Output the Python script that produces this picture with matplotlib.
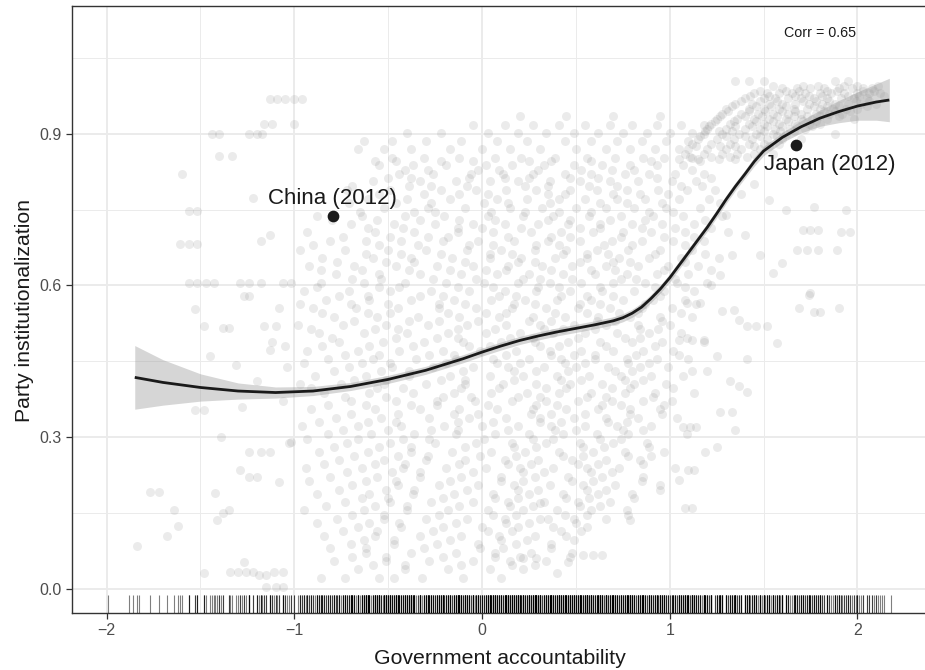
import numpy as np
import matplotlib.pyplot as plt
from matplotlib.ticker import FormatStrFormatter, MultipleLocator
import matplotlib.transforms as mtransforms

plt.rcParams['font.family'] = ['Liberation Sans', 'DejaVu Sans']

# Scatter cloud: (party institutionalization, [government accountability ...])
top_cluster_rows = [
    (1.005, [1.35, 1.42, 1.50, 1.88, 1.95]),
    (0.990, [1.60, 1.68, 1.75, 1.82, 1.90, 1.97, 2.03, 2.08]),
    (0.980, [1.45, 1.52, 1.58, 1.65, 1.72, 1.80, 1.86, 1.93, 2.00, 2.06, 2.12]),
    (0.970, [1.40, 1.50, 1.56, 1.63, 1.70, 1.77, 1.84, 1.91, 1.98, 2.05]),
    (0.960, [1.35, 1.44, 1.53, 1.60, 1.67, 1.74, 1.81, 1.88, 1.95, 2.02, 2.10]),
    (0.950, [1.30, 1.42, 1.50, 1.58, 1.66, 1.73, 1.80, 1.87, 1.94, 2.00]),
    (0.940, [1.28, 1.38, 1.47, 1.55, 1.63, 1.70, 1.78, 1.85, 1.92]),
    (0.930, [1.25, 1.36, 1.45, 1.53, 1.62, 1.70, 1.76, 1.84, 1.98]),
    (0.920, [1.22, 1.32, 1.42, 1.50, 1.58, 1.67, 1.74, 1.80]),
    (0.910, [1.20, 1.30, 1.40, 1.48, 1.56, 1.64, 1.72]),
    (0.900, [1.18, 1.28, 1.37, 1.46, 1.55, 1.62, 1.88]),
    (0.890, [1.15, 1.25, 1.34, 1.44, 1.52, 1.60, 1.70]),
    (0.880, [1.12, 1.22, 1.32, 1.42, 1.50, 1.58]),
    (0.870, [1.10, 1.20, 1.30, 1.38, 1.48]),
    (0.860, [1.08, 1.18, 1.28, 1.36, 1.45, 1.55]),
    (0.850, [1.05, 1.15, 1.26, 1.35]),
]

top_cluster_rows_b = [
    (0.995, [1.55, 1.71, 1.79, 1.93, 2.00, 2.11]),
    (0.985, [1.48, 1.62, 1.69, 1.84, 1.89, 2.03, 2.09]),
    (0.975, [1.43, 1.53, 1.67, 1.74, 1.81, 1.95, 2.01, 2.14]),
    (0.965, [1.38, 1.48, 1.57, 1.71, 1.78, 1.85, 1.99, 2.06]),
    (0.955, [1.33, 1.46, 1.54, 1.62, 1.77, 1.84, 1.90, 2.05]),
    (0.945, [1.31, 1.42, 1.51, 1.60, 1.67, 1.82, 1.88, 1.96]),
    (0.935, [1.27, 1.40, 1.49, 1.57, 1.66, 1.73, 1.80, 1.90]),
    (0.925, [1.24, 1.34, 1.46, 1.55, 1.63, 1.71, 1.78]),
    (0.915, [1.21, 1.35, 1.44, 1.52, 1.60, 1.68, 1.76]),
    (0.905, [1.19, 1.26, 1.33, 1.50, 1.59, 1.66]),
    (0.895, [1.16, 1.30, 1.40, 1.48, 1.57]),
    (0.875, [1.14, 1.27, 1.35, 1.45, 1.53]),
    (0.855, [1.11, 1.22, 1.32, 1.41]),
]

upper_band_rows = [
    (0.935, [0.20, 0.45, 0.70, 0.95]),
    (0.918, [-0.05, 0.12, 0.27, 0.41, 0.55, 0.68, 0.80, 0.93, 1.06, 1.18]),
    (0.902, [-0.40, -0.22, 0.03, 0.19, 0.34, 0.49, 0.62, 0.75, 0.88, 1.00, 1.12]),
    (0.886, [-0.63, -0.48, -0.30, -0.11, 0.08, 0.24, 0.44, 0.58, 0.72, 0.85, 0.98, 1.10]),
    (0.870, [-0.66, -0.52, -0.38, -0.17, 0.00, 0.15, 0.31, 0.50, 0.66, 0.79, 0.92, 1.05]),
]

core_rows = [
    (0.853, [-0.48, -0.31, -0.12, 0.07, 0.21, 0.39, 0.56, 0.71, 0.86, 0.97, 1.12]),
    (0.838, [-0.55, -0.37, -0.19, 0.02, 0.16, 0.33, 0.49, 0.64, 0.79, 0.93, 1.07]),
    (0.821, [-0.44, -0.26, -0.06, 0.11, 0.27, 0.44, 0.58, 0.76, 0.89, 1.03, 1.18]),
    (0.806, [-0.58, -0.33, -0.14, 0.04, 0.19, 0.36, 0.52, 0.68, 0.83, 1.01, 1.14]),
    (0.789, [-0.72, -0.49, -0.22, -0.03, 0.13, 0.29, 0.47, 0.61, 0.77, 0.94, 1.09, 1.24]),
    (0.772, [-0.61, -0.40, -0.17, 0.08, 0.24, 0.41, 0.55, 0.72, 0.87, 1.05, 1.21]),
    (0.754, [-0.52, -0.29, -0.09, 0.15, 0.32, 0.50, 0.66, 0.81, 0.98, 1.16]),
    (0.738, [-0.88, -0.64, -0.41, -0.20, 0.03, 0.22, 0.38, 0.57, 0.74, 0.91, 1.07, 1.28]),
    (0.721, [-0.70, -0.47, -0.25, -0.05, 0.12, 0.30, 0.46, 0.63, 0.80, 0.96, 1.13]),
    (0.705, [-0.93, -0.57, -0.36, -0.13, 0.06, 0.26, 0.42, 0.59, 0.75, 0.90, 1.08, 1.31]),
    (0.688, [-0.81, -0.62, -0.43, -0.21, -0.02, 0.17, 0.35, 0.52, 0.69, 0.85, 1.02, 1.18]),
    (0.671, [-0.97, -0.73, -0.50, -0.30, -0.08, 0.10, 0.28, 0.45, 0.61, 0.78, 0.95, 1.12]),
    (0.655, [-0.85, -0.58, -0.38, -0.16, 0.04, 0.21, 0.39, 0.56, 0.73, 0.89, 1.06, 1.26]),
    (0.638, [-0.92, -0.68, -0.46, -0.24, -0.05, 0.14, 0.32, 0.48, 0.66, 0.83, 0.99, 1.15]),
    (0.622, [-0.78, -0.55, -0.33, -0.11, 0.08, 0.25, 0.43, 0.60, 0.77, 0.93, 1.10]),
    (0.605, [-1.02, -0.86, -0.63, -0.41, -0.19, 0.01, 0.19, 0.36, 0.53, 0.70, 0.87, 1.04, 1.20]),
    (0.588, [-0.95, -0.71, -0.49, -0.27, -0.07, 0.12, 0.29, 0.47, 0.64, 0.81, 0.97, 1.13]),
    (0.571, [-0.83, -0.60, -0.38, -0.15, 0.05, 0.23, 0.40, 0.58, 0.75, 0.91, 1.08]),
    (0.555, [-1.08, -0.90, -0.67, -0.45, -0.23, -0.03, 0.16, 0.34, 0.51, 0.68, 0.85, 1.01]),
    (0.538, [-0.79, -0.56, -0.34, -0.12, 0.09, 0.27, 0.44, 0.62, 0.79, 0.95, 1.12]),
    (0.521, [-0.98, -0.74, -0.51, -0.29, -0.08, 0.13, 0.31, 0.49, 0.66, 0.83, 1.00]),
    (0.505, [-0.87, -0.63, -0.40, -0.18, 0.02, 0.20, 0.38, 0.55, 0.72, 0.89, 1.06]),
    (0.488, [-1.12, -0.76, -0.53, -0.31, -0.10, 0.10, 0.28, 0.46, 0.63, 0.80, 0.96, 1.18]),
    (0.471, [-0.93, -0.66, -0.44, -0.21, -0.01, 0.18, 0.36, 0.53, 0.70, 0.86, 1.02]),
    (0.455, [-0.82, -0.58, -0.35, -0.14, 0.06, 0.25, 0.42, 0.60, 0.77, 0.93, 1.10]),
    (0.438, [-1.04, -0.71, -0.48, -0.26, -0.05, 0.14, 0.33, 0.50, 0.67, 0.84, 0.99]),
    (0.421, [-0.89, -0.62, -0.39, -0.17, 0.04, 0.22, 0.40, 0.57, 0.74, 0.90, 1.07]),
    (0.405, [-0.97, -0.75, -0.52, -0.30, -0.09, 0.11, 0.29, 0.47, 0.64, 0.81, 0.98]),
    (0.388, [-0.84, -0.60, -0.37, -0.15, 0.05, 0.24, 0.41, 0.58, 0.76, 0.92, 1.13]),
    (0.371, [-1.06, -0.70, -0.46, -0.24, -0.04, 0.16, 0.34, 0.51, 0.69, 0.86, 1.01]),
    (0.355, [-0.91, -0.57, -0.33, -0.12, 0.08, 0.27, 0.45, 0.62, 0.79, 0.95]),
    (0.338, [-0.78, -0.54, -0.28, -0.07, 0.13, 0.31, 0.49, 0.66, 0.83, 1.04]),
    (0.321, [-0.96, -0.66, -0.43, -0.20, 0.00, 0.19, 0.37, 0.55, 0.72, 0.90]),
    (0.305, [-0.82, -0.59, -0.36, -0.14, 0.07, 0.25, 0.43, 0.61, 0.78, 1.09]),
    (0.288, [-1.03, -0.72, -0.49, -0.25, -0.03, 0.16, 0.34, 0.52, 0.70, 0.88]),
    (0.271, [-0.87, -0.61, -0.38, -0.16, 0.05, 0.23, 0.41, 0.59, 0.76, 0.97]),
    (0.255, [-0.76, -0.52, -0.30, -0.09, 0.12, 0.30, 0.48, 0.66, 0.84]),
    (0.238, [-0.94, -0.64, -0.42, -0.19, 0.02, 0.20, 0.38, 0.56, 0.73, 1.03]),
    (0.221, [-0.81, -0.56, -0.33, -0.11, 0.10, 0.28, 0.46, 0.64, 0.86]),
    (0.205, [-0.69, -0.45, -0.23, -0.02, 0.17, 0.36, 0.54, 0.71, 0.95]),
    (0.188, [-0.88, -0.60, -0.37, -0.15, 0.06, 0.25, 0.43, 0.62, 0.80]),
    (0.171, [-0.73, -0.49, -0.27, -0.05, 0.14, 0.33, 0.51, 0.68]),
    (0.155, [-0.95, -0.63, -0.40, -0.18, 0.03, 0.22, 0.40, 0.58, 0.77]),
    (0.138, [-0.77, -0.52, -0.30, -0.08, 0.12, 0.31, 0.49, 0.66]),
    (0.121, [-0.66, -0.43, -0.21, 0.00, 0.19, 0.38, 0.56]),
    (0.105, [-0.84, -0.57, -0.33, -0.11, 0.09, 0.28, 0.45]),
    (0.088, [-0.70, -0.47, -0.24, -0.02, 0.18, 0.37]),
    (0.071, [-0.62, -0.38, -0.14, 0.07, 0.26, 0.48]),
    (0.055, [-0.79, -0.51, -0.28, -0.05, 0.15, 0.34]),
    (0.038, [-0.66, -0.41, -0.18, 0.04, 0.22]),
    (0.021, [-0.86, -0.73, -0.55, -0.47, -0.32, -0.10, 0.10]),
]

core_rows_b = [
    (0.846, [-0.57, -0.46, -0.22, -0.05, 0.25, 0.37, 0.58, 0.90, 1.16]),
    (0.829, [-0.41, -0.29, -0.02, 0.09, 0.30, 0.53, 0.69, 0.81, 1.12]),
    (0.813, [-0.50, -0.38, -0.07, 0.12, 0.25, 0.47, 0.62, 0.93, 1.22]),
    (0.797, [-0.69, -0.39, -0.27, -0.08, 0.23, 0.35, 0.57, 0.72, 1.06, 1.17]),
    (0.781, [-0.55, -0.31, -0.12, 0.03, 0.35, 0.44, 0.70, 0.84, 0.99]),
    (0.763, [-0.71, -0.46, -0.27, 0.01, 0.14, 0.36, 0.63, 0.77, 0.96, 1.27]),
    (0.746, [-0.65, -0.36, -0.25, 0.05, 0.23, 0.41, 0.58, 0.89, 1.02]),
    (0.729, [-0.80, -0.56, -0.33, -0.12, 0.07, 0.35, 0.47, 0.68, 0.87, 1.19]),
    (0.713, [-0.61, -0.42, -0.13, 0.00, 0.21, 0.52, 0.63, 0.85, 1.03, 1.22]),
    (0.696, [-0.74, -0.49, -0.29, -0.18, 0.14, 0.37, 0.47, 0.74, 0.97, 1.13]),
    (0.680, [-0.90, -0.55, -0.34, -0.07, 0.06, 0.29, 0.41, 0.65, 0.80, 1.08]),
    (0.663, [-0.62, -0.43, -0.22, 0.04, 0.16, 0.43, 0.56, 0.67, 0.92, 1.19]),
    (0.646, [-0.77, -0.51, -0.36, -0.09, 0.19, 0.28, 0.52, 0.70, 0.79, 1.08]),
    (0.630, [-0.86, -0.64, -0.39, -0.17, 0.02, 0.13, 0.37, 0.58, 0.71, 0.97, 1.22]),
    (0.613, [-0.69, -0.54, -0.26, -0.03, 0.22, 0.31, 0.48, 0.74, 0.82, 1.03]),
    (0.596, [-0.88, -0.55, -0.44, -0.13, 0.06, 0.30, 0.41, 0.63, 0.92, 1.08]),
    (0.580, [-0.76, -0.61, -0.33, -0.21, 0.09, 0.18, 0.42, 0.56, 0.70, 0.95]),
    (0.563, [-0.97, -0.70, -0.50, -0.23, -0.09, 0.17, 0.28, 0.52, 0.63, 0.87, 1.14]),
    (0.546, [-0.85, -0.61, -0.49, -0.18, 0.02, 0.13, 0.39, 0.56, 0.73, 0.83, 1.06]),
    (0.530, [-0.68, -0.39, -0.23, -0.02, 0.25, 0.37, 0.61, 0.71, 0.96]),
    (0.513, [-0.91, -0.57, -0.45, -0.13, 0.07, 0.33, 0.43, 0.60, 0.84, 0.94]),
    (0.496, [-0.80, -0.46, -0.24, -0.13, 0.15, 0.27, 0.51, 0.76, 0.84, 1.09]),
    (0.480, [-1.05, -0.85, -0.60, -0.37, -0.07, 0.04, 0.31, 0.41, 0.66, 0.92]),
    (0.463, [-0.73, -0.55, -0.28, -0.15, 0.13, 0.37, 0.49, 0.60, 0.82, 1.05]),
    (0.446, [-0.95, -0.64, -0.49, -0.19, 0.08, 0.20, 0.44, 0.55, 0.78, 0.89]),
    (0.430, [-0.79, -0.54, -0.39, -0.10, 0.17, 0.29, 0.46, 0.71, 0.80, 1.12]),
    (0.413, [-0.68, -0.51, -0.22, -0.09, 0.17, 0.42, 0.53, 0.76, 0.86]),
    (0.396, [-0.91, -0.56, -0.42, -0.11, 0.09, 0.34, 0.45, 0.69, 0.79, 1.02]),
    (0.380, [-0.73, -0.51, -0.21, -0.06, 0.19, 0.31, 0.56, 0.66, 0.91]),
    (0.363, [-0.82, -0.62, -0.38, -0.24, 0.03, 0.29, 0.40, 0.64, 0.74, 0.97]),
    (0.346, [-0.70, -0.45, -0.15, -0.02, 0.26, 0.37, 0.55, 0.79, 0.96]),
    (0.330, [-0.87, -0.61, -0.46, -0.13, 0.06, 0.31, 0.42, 0.67, 0.77]),
    (0.313, [-0.74, -0.50, -0.27, -0.13, 0.14, 0.39, 0.50, 0.75, 0.86]),
    (0.296, [-0.93, -0.66, -0.42, -0.28, 0.01, 0.27, 0.38, 0.63, 0.74]),
    (0.280, [-0.79, -0.55, -0.38, -0.09, 0.17, 0.29, 0.54, 0.65, 0.89]),
    (0.263, [-0.68, -0.45, -0.29, -0.01, 0.18, 0.43, 0.54, 0.78, 0.90]),
    (0.246, [-0.84, -0.57, -0.41, -0.12, 0.14, 0.26, 0.51, 0.62, 0.86]),
    (0.230, [-0.72, -0.48, -0.33, -0.05, 0.22, 0.33, 0.58, 0.69]),
    (0.213, [-0.92, -0.62, -0.46, -0.17, 0.10, 0.22, 0.48, 0.59, 0.85]),
    (0.196, [-0.76, -0.51, -0.36, -0.08, 0.19, 0.30, 0.56, 0.66, 0.95]),
    (0.180, [-0.64, -0.50, -0.21, 0.07, 0.19, 0.45, 0.57, 0.81]),
    (0.163, [-0.83, -0.57, -0.40, -0.12, 0.15, 0.27, 0.52, 0.63]),
    (0.146, [-0.69, -0.52, -0.23, 0.06, 0.18, 0.44, 0.56, 0.78]),
    (0.130, [-0.88, -0.60, -0.44, -0.14, 0.13, 0.25, 0.50]),
    (0.113, [-0.74, -0.56, -0.26, 0.03, 0.16, 0.42, 0.53]),
    (0.096, [-0.63, -0.47, -0.17, 0.10, 0.24, 0.49]),
    (0.080, [-0.81, -0.62, -0.31, -0.01, 0.11, 0.37]),
    (0.063, [-0.69, -0.51, -0.21, 0.07, 0.20, 0.47]),
    (0.046, [-0.58, -0.41, -0.11, 0.16, 0.28]),
]

# scattered points left of -1 and right of 1 (accountability, institutionalization)
left_tail = [
    (-1.13, 0.968), (-1.09, 0.968), (-1.05, 0.968), (-1.00, 0.968), (-0.96, 0.968),
    (-1.16, 0.919), (-1.12, 0.919), (-1.00, 0.919),
    (-1.44, 0.899), (-1.40, 0.899), (-1.24, 0.899), (-1.20, 0.899), (-1.17, 0.899),
    (-1.40, 0.856), (-1.33, 0.856), (-1.22, 0.774), (-1.56, 0.747), (-1.52, 0.747),
    (-1.61, 0.681), (-1.56, 0.681), (-1.52, 0.681), (-1.18, 0.687), (-1.13, 0.700),
    (-1.56, 0.605), (-1.52, 0.605), (-1.47, 0.605), (-1.43, 0.605), (-1.29, 0.605),
    (-1.24, 0.605), (-1.18, 0.605), (-1.06, 0.605), (-1.53, 0.553), (-1.38, 0.516),
    (-1.35, 0.516), (-1.31, 0.443), (-1.13, 0.473), (-1.53, 0.353), (-1.48, 0.353),
    (-1.39, 0.300), (-1.27, 0.580), (-1.24, 0.580), (-1.16, 0.520), (-1.10, 0.520),
    (-1.20, 0.410), (-1.28, 0.360), (-1.84, 0.084), (-1.68, 0.104), (-1.62, 0.124),
    (-1.64, 0.156), (-1.77, 0.191), (-1.72, 0.191), (-1.48, 0.031), (-1.41, 0.136),
    (-1.38, 0.150), (-1.35, 0.155), (-1.42, 0.190), (-1.29, 0.235), (-1.27, 0.052),
    (-1.24, 0.220), (-1.20, 0.220), (-1.24, 0.270), (-1.18, 0.270), (-1.13, 0.270),
    (-1.19, 0.027), (-1.15, 0.027), (-1.34, 0.032), (-1.30, 0.032), (-1.26, 0.032),
    (-1.22, 0.032), (-1.11, 0.032), (-1.06, 0.032), (-1.15, 0.004), (-1.10, 0.004),
    (-1.06, 0.004), (-1.02, 0.290), (-1.08, 0.210), (-1.60, 0.820), (-1.48, 0.520),
    (-1.45, 0.460),
]

right_tail = [
    (1.74, 0.581), (1.69, 0.555), (1.77, 0.548), (1.80, 0.548), (1.90, 0.555),
    (1.34, 0.552), (1.37, 0.532), (1.41, 0.520), (1.46, 0.520), (1.52, 0.520),
    (1.57, 0.486), (1.41, 0.454), (1.32, 0.410), (1.37, 0.400), (1.41, 0.390),
    (1.27, 0.350), (1.33, 0.350), (1.35, 0.314), (1.05, 0.492), (1.12, 0.492),
    (1.18, 0.492), (1.09, 0.565), (1.16, 0.565), (1.07, 0.320), (1.11, 0.320),
    (1.14, 0.320), (1.10, 0.235), (1.13, 0.235), (1.08, 0.160), (1.12, 0.160),
    (1.19, 0.270), (1.25, 0.280), (1.05, 0.215), (0.79, 0.136), (0.54, 0.066),
    (0.59, 0.066), (0.64, 0.066), (0.22, 0.060), (0.29, 0.060), (0.40, 0.030),
    (0.46, 0.052), (0.35, 0.137), (0.31, 0.170),
    (1.71, 0.710), (1.75, 0.710), (1.79, 0.710), (1.91, 0.706), (1.96, 0.706),
    (1.68, 0.670), (1.73, 0.670), (1.79, 0.670), (1.89, 0.670), (1.60, 0.645),
    (1.55, 0.625), (1.75, 0.585), (1.77, 0.756), (1.94, 0.750), (1.62, 0.750),
    (1.53, 0.770), (1.45, 0.800), (1.38, 0.780), (1.30, 0.740), (1.40, 0.700),
    (1.48, 0.660), (1.27, 0.620), (1.33, 0.660), (1.22, 0.600), (1.28, 0.550),
    (1.20, 0.430), (1.25, 0.460),
]

# observations that only show up in the rug
rug_only = [-1.99, -1.88, -1.86, -1.83, 2.08, 2.10, 2.13, 2.18]

# smoothed fit and its confidence half-width
smooth_x = [-1.85, -1.7, -1.5, -1.3, -1.1, -0.9, -0.7, -0.5, -0.3, -0.1, 0.0, 0.1,
            0.2, 0.3, 0.4, 0.5, 0.6, 0.7, 0.75, 0.8, 0.85, 0.9, 0.95, 1.0, 1.05,
            1.1, 1.15, 1.2, 1.25, 1.3, 1.35, 1.4, 1.45, 1.5, 1.6, 1.7, 1.8, 1.9,
            2.0, 2.1, 2.17]
smooth_y = [0.418, 0.408, 0.398, 0.391, 0.388, 0.391, 0.400, 0.414, 0.432, 0.455,
            0.468, 0.480, 0.491, 0.500, 0.508, 0.515, 0.522, 0.530, 0.536, 0.545,
            0.557, 0.574, 0.593, 0.615, 0.640, 0.665, 0.690, 0.715, 0.742, 0.770,
            0.796, 0.820, 0.845, 0.866, 0.893, 0.914, 0.931, 0.944, 0.955, 0.963,
            0.967]
smooth_se = [0.063, 0.045, 0.027, 0.016, 0.011, 0.009, 0.008, 0.008, 0.008, 0.008,
             0.008, 0.008, 0.008, 0.008, 0.008, 0.008, 0.008, 0.008, 0.008, 0.008,
             0.008, 0.008, 0.008, 0.008, 0.008, 0.008, 0.008, 0.008, 0.008, 0.008,
             0.008, 0.008, 0.009, 0.009, 0.010, 0.012, 0.016, 0.022, 0.028, 0.036,
             0.043]

highlight_names = ['China (2012)', 'Japan (2012)']
highlight_x = [-0.796, 1.675]
highlight_y = [0.737, 0.878]

corr_label = 'Corr = 0.65'


def rows_to_xy(rows):
    xs, ys = [], []
    for y, xlist in rows:
        xs += xlist
        ys += [y] * len(xlist)
    return xs, ys


acc, inst = [], []
for rows in (core_rows, core_rows_b, upper_band_rows, top_cluster_rows, top_cluster_rows_b):
    xs, ys = rows_to_xy(rows)
    acc += xs
    inst += ys
for pts in (left_tail, right_tail):
    acc += [p[0] for p in pts]
    inst += [p[1] for p in pts]

fig = plt.figure(figsize=(9.25, 6.7), dpi=100)
ax = fig.add_axes([0.0775, 0.0846, 0.9225, 0.9064])

ax.set_xlim(-2.186, 2.36)
ax.set_ylim(-0.049, 1.153)

# grid like theme_bw
ax.xaxis.set_major_locator(MultipleLocator(1))
ax.xaxis.set_minor_locator(MultipleLocator(0.5))
ax.yaxis.set_major_locator(MultipleLocator(0.3))
ax.yaxis.set_minor_locator(MultipleLocator(0.15))
ax.yaxis.set_major_formatter(FormatStrFormatter('%.1f'))
ax.grid(which='major', color='#EBEBEB', linewidth=1.4)
ax.grid(which='minor', color='#EBEBEB', linewidth=0.7)
ax.set_axisbelow(True)

# points
ax.scatter(acc, inst, s=42, color='#8a8a8a', alpha=0.17, linewidths=0, zorder=2)

# smooth + ribbon
sx = np.array(smooth_x)
sy = np.array(smooth_y)
se = np.array(smooth_se)
ax.fill_between(sx, sy - se, sy + se, color='#999999', alpha=0.4, linewidth=0, zorder=3)
ax.plot(sx, sy, color='#1a1a1a', linewidth=2.0, zorder=4, solid_capstyle='butt')

# rug along the bottom
trans = mtransforms.blended_transform_factory(ax.transData, ax.transAxes)
rug_x = acc + rug_only
for x in rug_x:
    ax.plot([x, x], [0, 0.03], transform=trans, color='black', alpha=0.5,
            linewidth=0.8, zorder=3, solid_capstyle='butt')

# highlighted countries
ax.scatter(highlight_x, highlight_y, s=55, color='#1a1a1a', zorder=5)
ax.annotate(highlight_names[0], (highlight_x[0], highlight_y[0]),
            xytext=(0, 12.5), textcoords='offset points', ha='center', va='center',
            fontsize=16, color='#1a1a1a', zorder=6)
ax.annotate(highlight_names[1], (highlight_x[1], highlight_y[1]),
            xytext=(24, -14), textcoords='offset points', ha='center', va='center',
            fontsize=16, color='#1a1a1a', zorder=6)

ax.text(1.80, 1.10, corr_label, ha='center', va='center', fontsize=10.3, color='#1a1a1a')

# axes styling
for side in ('left', 'bottom', 'top'):
    ax.spines[side].set_color('#333333')
    ax.spines[side].set_linewidth(1.0)
ax.spines['right'].set_visible(False)
ax.tick_params(which='major', length=4, width=0.9, color='#333333',
               labelcolor='#4D4D4D', labelsize=11.5, pad=3)
ax.tick_params(which='minor', length=0)

fig.text(500 / 925, 1 - 658 / 670, 'Government accountability', ha='center', va='center',
         fontsize=15.3, color='#1a1a1a')
fig.text(25 / 925, 1 - 310 / 670, 'Party institutionalization', ha='center', va='center',
         rotation=90, fontsize=15.3, color='#1a1a1a')

fig.savefig('out.png', dpi=100)
